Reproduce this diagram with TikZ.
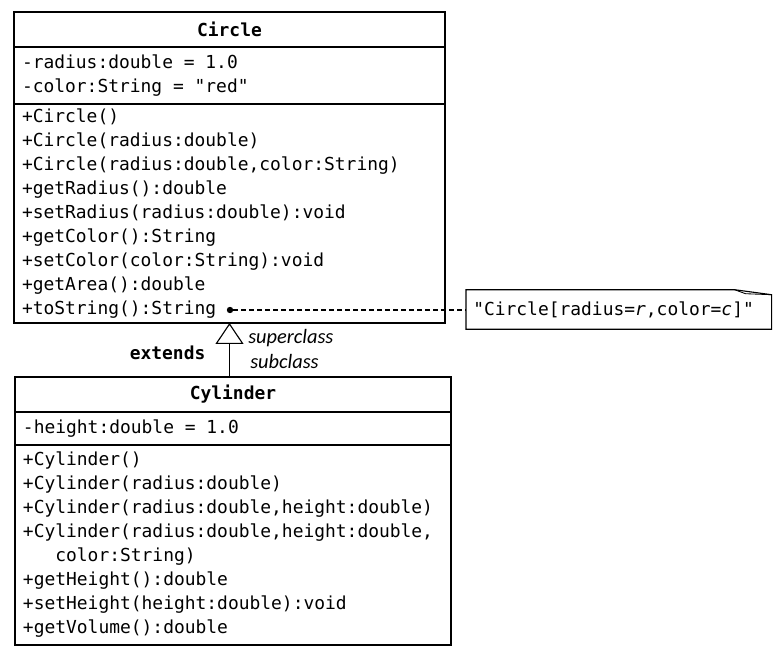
\documentclass[tikz,border=0pt]{standalone}
\usepackage{fontspec}
\setmonofont{DejaVu Sans Mono}
\newfontfamily\rolefont{Carlito}
\usepackage{tikz}
\usetikzlibrary{positioning,arrows.meta}

\newcommand{\umlfont}{\ttfamily\fontsize{12.75}{17.07}\selectfont}
\newcommand{\sps}{\hspace*{0.602em}}

\tikzset{
  umlpart/.style={draw, rectangle, line width=0.8pt, outer sep=0pt, inner xsep=0.2cm, inner ysep=0pt, align=left,
    font=\umlfont},
  umlname/.style={umlpart, align=center, minimum height=0.875cm, font=\umlfont\bfseries},
  rolelabel/.style={anchor=west, inner sep=0pt, font=\rolefont\itshape\fontsize{14.5}{16}\selectfont}
}

\begin{document}
\begin{tikzpicture}
\useasboundingbox (0,0) rectangle (19.45,-16.35);

\node[umlname, anchor=north west, minimum width=10.775cm] (circtitle) at (0.35,-0.3) {Circle};
\node[umlpart, below=0cm of circtitle, text width=10.375cm, minimum height=1.425cm] (circattrs)
  {-radius:double\sps=\sps1.0\\-color:String\sps=\sps"red"};
\node[umlpart, below=0cm of circattrs, text width=10.375cm, minimum height=5.475cm] (circops)
  {+Circle()\\+Circle(radius:double)\\+Circle(radius:double,color:String)\\+getRadius():double\\
   +setRadius(radius:double):void\\+getColor():String\\+setColor(color:String):void\\
   +getArea():double\\+toString():String};

\node[umlname, anchor=north west, minimum width=10.9cm] (cyltitle) at (0.375,-9.425) {Cylinder};
\node[umlpart, below=0cm of cyltitle, text width=10.5cm, minimum height=0.825cm] (cylattrs)
  {-height:double\sps=\sps1.0};
\node[umlpart, below=0cm of cylattrs, text width=10.5cm, minimum height=5.0cm] (cylops)
  {+Cylinder()\\+Cylinder(radius:double)\\+Cylinder(radius:double,height:double)\\
   +Cylinder(radius:double,height:double,\\\phantom{+Cy}color:String)\\+getHeight():double\\
   +setHeight(height:double):void\\+getVolume():double};

\draw[line width=0.8pt, -{Triangle[open, width=0.7cm, length=0.525cm]}] (cyltitle.north -| circops.south) -- (circops.south);
\node[rolelabel] (superlbl) at (6.2,-8.45) {superclass};
\node[rolelabel] (sublbl) at (6.25,-9.05) {subclass};
\node[font=\umlfont\bfseries] (extlbl) at (4.19,-8.825) {extends};

\node[anchor=west, minimum width=7.625cm, minimum height=0.975cm, text width=7.275cm, inner xsep=0.175cm, align=left,
  font=\umlfont] (note) at (11.65,-7.7375)
  {"Circle[radius=\textit{r},color=\textit{c}]"};
\draw[line width=0.8pt] (note.north west) -- ([xshift=-0.925cm]note.north east) -- ([yshift=-0.125cm]note.north east)
  -- (note.south east) -- (note.south west) -- cycle;
\draw[line width=0.6pt] ([xshift=-0.925cm]note.north east) -- ([xshift=-0.65cm, yshift=-0.1cm]note.north east)
  -- ([yshift=-0.125cm]note.north east);

\node[circle, fill, inner sep=0pt, minimum size=0.16cm] (dot) at (5.75,-7.75) {};
\draw[line width=0.8pt, dash pattern=on 0.12cm off 0.08cm] (dot) -- (dot -| note.west);
\end{tikzpicture}
\end{document}
